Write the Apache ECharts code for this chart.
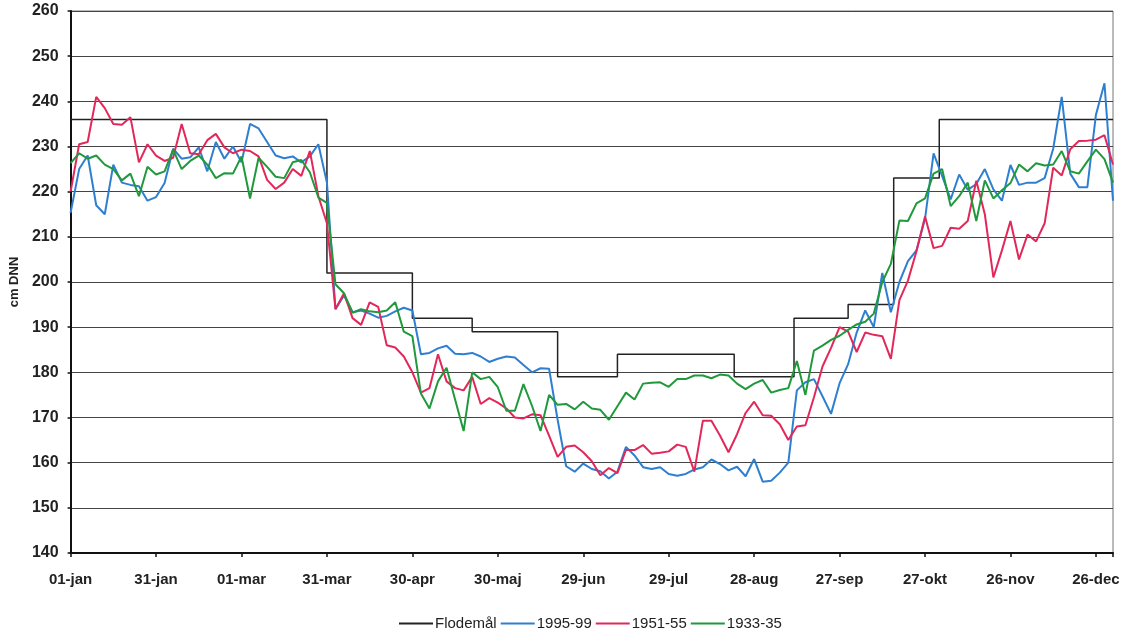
<!DOCTYPE html>
<html>
<head>
<meta charset="utf-8">
<script src="https://cdn.jsdelivr.net/npm/echarts@6/dist/echarts.min.js"></script>
<style>
  html, body { margin: 0; padding: 0; background: #fff; }
  #chart { width: 1136px; height: 630px; }
</style>
</head>
<body>
<div id="chart"></div>
<script>
// dagnummer (skudår) -> etiket på x-aksen, hver 30. dag
var tickLabels = ['01-jan', '31-jan', '01-mar', '31-mar', '30-apr', '30-maj', '29-jun',
                  '29-jul', '28-aug', '27-sep', '27-okt', '26-nov', '26-dec'];

// Flodemål: dag hvor niveauet skifter, og niveauet fra den dag
var floodDays   = [0, 90, 120, 141, 171, 192, 233, 254, 273, 289, 305, 366];
var floodLevels = [236, 202, 192, 189, 179, 184, 179, 192, 195, 223, 236, 236];

// vandstand aflæst hver 3. dag (dag 0, 3, 6 ... 366), cm DNN
var STEP = 3;

var s1995 = [
  215.3, 225, 228, 217, 215, 226, 222, 221.5, 221.2, 218,
  218.8, 221.9, 229.5, 227.3, 227.6, 229.8, 224.5, 231, 227.3, 230,
  226.5, 235, 234, 231, 228, 227.4, 227.8, 226.5, 227.8, 230.5,
  222, 194, 197, 193.3, 193.7, 193, 192.1, 192.5, 193.5, 194.3,
  193.7, 184, 184.3, 185.3, 185.9, 184.1, 184, 184.3, 183.5, 182.3,
  183, 183.5, 183.3, 181.6, 180, 180.9, 180.8, 169.5, 159.2, 158,
  159.8, 158.6, 158.1, 156.5, 158, 163.5, 161.6, 159, 158.6, 159,
  157.5, 157.1, 157.5, 158.5, 159, 160.7, 159.7, 158.3, 159.1, 157,
  160.8, 155.8, 156, 157.8, 160, 176, 177.8, 178.5, 174.7, 170.8,
  177.6, 181.8, 188.8, 193.7, 190, 202, 193.3, 200, 204.6, 207,
  214, 228.5, 223.5, 218.3, 223.8, 220.4, 221.7, 225, 220.5, 218,
  225.9, 221.5, 222, 222, 223, 229.5, 241, 224, 221, 221,
  237, 244, 218
];

var s1951 = [
  220, 230.5, 231, 241, 238.5, 235, 234.8, 236.5, 226.5, 230.5,
  228, 226.8, 227.5, 235, 228.5, 228.3, 231.4, 232.8, 229.8, 228.5,
  229.3, 229, 227.8, 222.6, 220.6, 222, 225, 223.5, 229, 219,
  213, 194, 197.5, 192, 190.5, 195.5, 194.5, 186, 185.5, 183.5,
  180, 175.5, 176.5, 184, 178, 176.5, 176, 179, 173, 174.3,
  173.3, 172, 170, 169.8, 170.7, 170.5, 166, 161.3, 163.5, 163.8,
  162.3, 160.3, 157.2, 158.8, 157.7, 162.8, 162.8, 163.9, 162, 162.2,
  162.5, 164, 163.5, 158, 169.3, 169.3, 166, 162.3, 166.3, 171,
  173.5, 170.5, 170.4, 168.5, 165, 168, 168.3, 174.5, 181.3, 185.4,
  190, 189, 184.5, 188.8, 188.3, 188, 183, 196, 200.3, 206.8,
  214.5, 207.5, 208, 212, 211.8, 213.5, 222.4, 215, 201, 207,
  213.5, 205, 210.5, 209, 213, 225.3, 223.6, 229.4, 231.2, 231.3,
  231.5, 232.5, 226
];

var s1933 = [
  226.3, 228.5, 227.3, 228, 226, 225, 222.5, 224, 219, 225.5,
  223.8, 224.5, 229.3, 225, 226.8, 228, 226, 223, 224.1, 224,
  227.8, 218.5, 227.5, 225.5, 223.3, 223, 226.5, 227, 224.3, 218.7,
  217.5, 199.5, 197.5, 193.2, 194, 193.5, 193.3, 193.7, 195.5, 189,
  188, 175.3, 172, 178, 181, 174, 167, 180, 178.5, 179,
  176.7, 171.5, 171.5, 177.4, 172.6, 167, 175, 172.8, 173, 171.8,
  173.5, 172, 171.7, 169.5, 172.5, 175.5, 174, 177.5, 177.7, 177.8,
  176.8, 178.5, 178.5, 179.3, 179.3, 178.7, 179.5, 179.3, 177.5, 176.3,
  177.5, 178.3, 175.5, 176.1, 176.5, 182.5, 175, 184.8, 185.9, 187.2,
  188.1, 189.4, 190.6, 191.2, 193, 200, 204, 213.6, 213.5, 217.4,
  218.5, 224, 225, 216.8, 219, 222, 213.5, 222.5, 218.5, 220.3,
  221.9, 226, 224.5, 226.3, 225.8, 226, 229, 224.5, 224, 226.7,
  229.3, 227.2, 222
];

function toPairs(values) {
  return values.map(function (v, i) { return [i * STEP, v]; });
}

var myChart = echarts.init(document.getElementById('chart'));

var font = 'Liberation Sans, Arial, sans-serif';

var option = {
  animation: false,
  color: ['#222222', '#2f7fd0', '#e2285a', '#20993c'],
  grid: {
    left: 70,
    right: 23,
    top: 11,
    bottom: 77,
    show: true,
    borderColor: '#777',
    borderWidth: 1
  },
  legend: {
    left: 394,
    top: 611,
    icon: 'rect',
    itemWidth: 34,
    itemHeight: 2,
    itemGap: 4,
    textStyle: { fontFamily: font, fontSize: 15, color: '#222', padding: [0, 0, 0, -3] },
    data: ['Flodemål', '1995-99', '1951-55', '1933-35']
  },
  xAxis: {
    type: 'value',
    min: 0,
    max: 366,
    interval: 30,
    axisLine: { show: true, onZero: false, lineStyle: { color: '#111', width: 2 } },
    axisTick: { show: true, length: 4, lineStyle: { color: '#111', width: 1.5 } },
    splitLine: { show: false },
    axisLabel: {
      margin: 19,
      fontFamily: font,
      fontSize: 15,
      fontWeight: 'bold',
      color: '#222',
      formatter: function (v) {
        return v % 30 === 0 && tickLabels[v / 30] ? tickLabels[v / 30] : '';
      }
    }
  },
  yAxis: {
    type: 'value',
    min: 140,
    max: 260,
    interval: 10,
    name: 'cm DNN',
    nameLocation: 'middle',
    nameGap: 49,
    nameTextStyle: { fontFamily: font, fontSize: 13, fontWeight: 'bold', color: '#222' },
    axisLine: { show: true, lineStyle: { color: '#111', width: 2 } },
    axisTick: { show: true, length: 3, lineStyle: { color: '#111', width: 1.5 } },
    splitLine: { show: true, lineStyle: { color: '#444', width: 1.2 } },
    axisLabel: {
      margin: 12,
      fontFamily: font,
      fontSize: 16,
      fontWeight: 'bold',
      color: '#222'
    }
  },
  series: [
    {
      name: 'Flodemål',
      type: 'line',
      step: 'end',
      symbol: 'none',
      lineStyle: { width: 1.5, color: '#222' },
      data: floodDays.map(function (d, i) { return [d, floodLevels[i]]; })
    },
    {
      name: '1995-99',
      type: 'line',
      symbol: 'none',
      lineStyle: { width: 2, color: '#2f7fd0' },
      data: toPairs(s1995)
    },
    {
      name: '1951-55',
      type: 'line',
      symbol: 'none',
      lineStyle: { width: 2, color: '#e2285a' },
      data: toPairs(s1951)
    },
    {
      name: '1933-35',
      type: 'line',
      symbol: 'none',
      lineStyle: { width: 2, color: '#20993c' },
      data: toPairs(s1933)
    }
  ]
};

myChart.setOption(option, true);
</script>
</body>
</html>
